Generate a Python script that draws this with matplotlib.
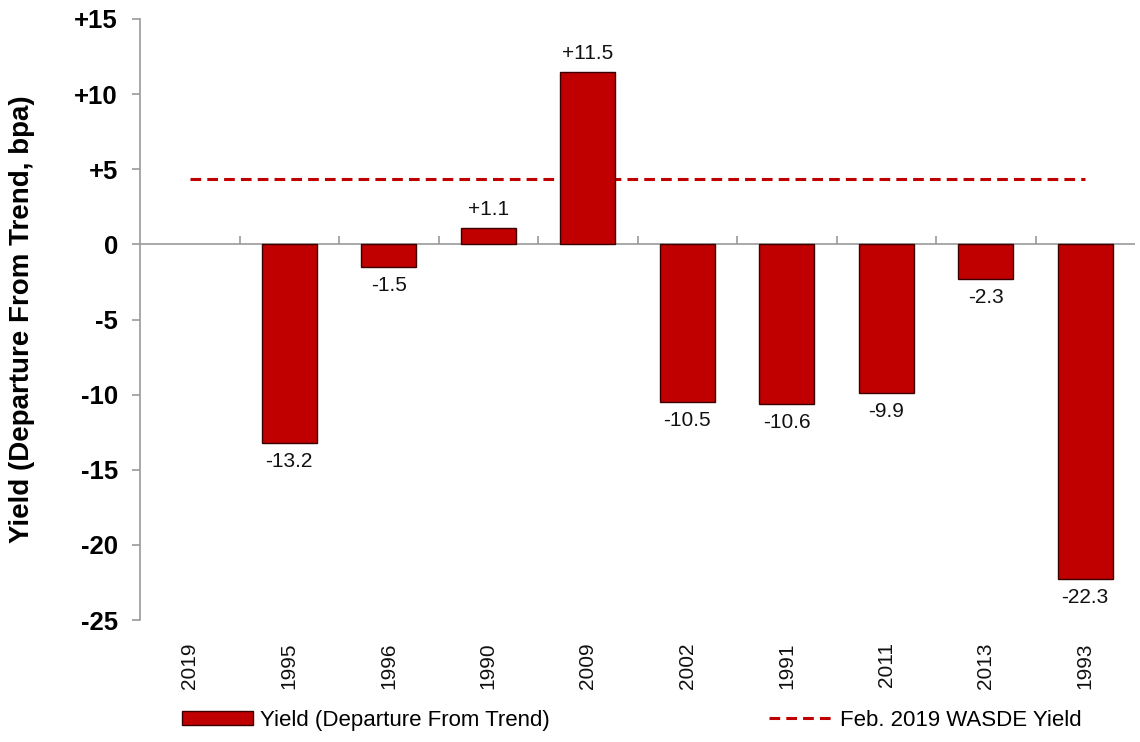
import matplotlib
matplotlib.use("Agg")
import matplotlib.pyplot as plt
import numpy as np

categories = ["2019", "1995", "1996", "1990", "2009", "2002", "1991", "2011", "2013", "1993"]
departure = [np.nan, -13.2, -1.5, 1.1, 11.5, -10.5, -10.6, -9.9, -2.3, -22.3]
wasde_yield = 4.35
yticks = [-25, -20, -15, -10, -5, 0, 5, 10, 15]
ytick_labels = ["-25", "-20", "-15", "-10", "-5", "0", "+5", "+10", "+15"]

plt.rcParams['font.family'] = ['Liberation Sans', 'DejaVu Sans']

fig = plt.figure(figsize=(11.4, 7.42), dpi=100)
ax = fig.add_axes([140/1140, 1-620/742, 995/1140, (620-19)/742])

x = np.arange(len(categories))
bar_color = '#C00000'
bars = ax.bar(x, departure, width=0.55, color=bar_color, edgecolor='#3a0000',
              linewidth=1.0, zorder=3)
line, = ax.plot([x[0], x[-1]], [wasde_yield, wasde_yield], ls=(0, (3.5, 2.0)), color='#C00000',
                lw=2.2, zorder=2)
ax.axhline(0, color='#999999', lw=1.2, zorder=1)

for xi, v in zip(x, departure):
    if np.isnan(v):
        continue
    if v >= 0:
        ax.text(xi, v + 0.6, f"+{v:.1f}", ha='center', va='bottom', fontsize=15, color='#111111')
    else:
        ax.text(xi, v - 0.6, f"{v:.1f}", ha='center', va='top', fontsize=15, color='#111111')

ax.set_xlim(-0.5, len(categories) - 0.5)
ax.set_ylim(-25, 15)
ax.set_yticks(yticks)
ax.set_yticklabels(ytick_labels, fontsize=18.5, fontweight='bold')
ax.tick_params(axis='y', length=6, color='#999999', width=1.2, pad=10)

ax.set_xticks(x)
ax.set_xticklabels(categories, rotation=90, fontsize=15, color='#111111')
ax.tick_params(axis='x', length=0, pad=16)

for s in ['top', 'right', 'bottom']:
    ax.spines[s].set_visible(False)
ax.spines['left'].set_color('#999999')
ax.spines['left'].set_linewidth(1.2)

# between-category tick marks on the zero line
sec = ax.secondary_xaxis(25/40)
sec.set_xticks(np.arange(0.5, len(categories) - 0.5, 1.0))
sec.set_xticklabels([])
sec.tick_params(axis='x', direction='out', length=6, color='#999999', width=1.2)
for s in sec.spines.values():
    s.set_visible(False)

ax.set_ylabel("Yield (Departure From Trend, bpa)", fontsize=20, fontweight='bold')
ax.yaxis.set_label_coords(-105/995, 0.5)

leg1 = fig.legend([bars], ['Yield (Departure From Trend)'], loc='center left',
                  bbox_to_anchor=(162/1140, 0.029), frameon=False, fontsize=16,
                  handlelength=3.2, handleheight=0.55, handletextpad=0.3)
leg2 = fig.legend([line], ['Feb. 2019 WASDE Yield'], loc='center right',
                  bbox_to_anchor=(1102/1140, 0.029), frameon=False, fontsize=16,
                  handlelength=2.8, handletextpad=0.4)

fig.savefig("out.png", dpi=100)
